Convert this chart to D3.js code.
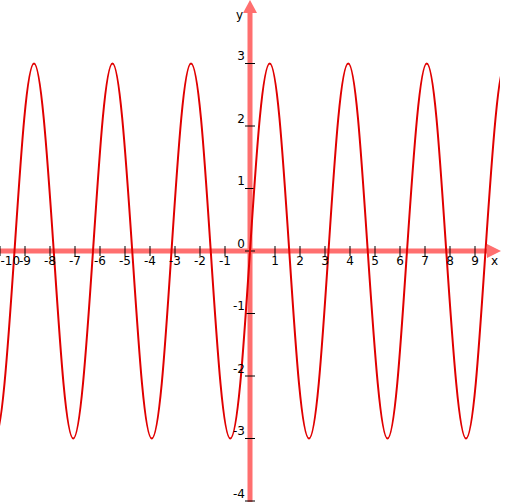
<!DOCTYPE html>
<html><head><meta charset="utf-8">
<script src="https://cdn.jsdelivr.net/npm/d3@7"></script>
<style>html,body{margin:0;padding:0;background:#fff;}svg{display:block;}</style>
</head><body>
<svg id="c" width="508" height="502"></svg>
<script>
// Points at eighth-period spacing, extending slightly beyond the view
const xs = [-11.00,-10.60,-10.21,-9.82,-9.42,-9.03,-8.64,-8.25,-7.85,-7.46,-7.07,-6.68,-6.28,-5.89,-5.50,-5.11,-4.71,-4.32,-3.93,-3.53,-3.14,-2.75,-2.36,-1.96,-1.57,-1.18,-0.79,-0.39,
  0,
  0.39,0.79,1.18,1.57,1.96,2.36,2.75,3.14,3.53,3.93,4.32,4.71,5.11,5.50,5.89,6.28,6.68,7.07,7.46,7.85,8.25,8.64,9.03,9.42,9.82,10.21,10.60,11.00];
const ysLeft = [0,-2.12,-3,-2.12,0,2.12,3,2.12, 0,-2.12,-3,-2.12,0,2.12,3,2.12, 0,-2.12,-3,-2.12,0,2.12,3,2.12, 0,-2.12,-3,-2.12];
const ysRight = [2.12,3,2.12,0,-2.12,-3,-2.12,0, 2.12,3,2.12,0,-2.12,-3,-2.12,0, 2.12,3,2.12,0,-2.12,-3,-2.12,0, 2.12,3,2.12,0];
const yVals = ysLeft.concat([0], ysRight);
const xTicks = [-10,-9,-8,-7,-6,-5,-4,-3,-2,-1,1,2,3,4,5,6,7,8,9];
const yTicks = [-4,-3,-2,-1,0,1,2,3];

const svg = d3.select("#c");
const W = 508, H = 502;
const x = d3.scaleLinear().domain([-10,10]).range([0,500]);
const y = d3.scaleLinear().domain([-4,4]).range([501,1]);
const axisColor = "#ff6f6f";
const font = "DejaVu Sans, sans-serif";

// axes
svg.append("line").attr("x1",0).attr("x2",489).attr("y1",y(0)).attr("y2",y(0))
  .attr("stroke",axisColor).attr("stroke-width",5);
svg.append("path").attr("d",`M487,${y(0)-7}L501,${y(0)}L487,${y(0)+7}Z`).attr("fill",axisColor);
svg.append("line").attr("x1",x(0)).attr("x2",x(0)).attr("y1",H).attr("y2",12)
  .attr("stroke",axisColor).attr("stroke-width",5);
svg.append("path").attr("d",`M${x(0)-7},13L${x(0)},0L${x(0)+7},13Z`).attr("fill",axisColor);

// ticks
svg.selectAll(".xt").data(xTicks).enter().append("line")
  .attr("x1",d=>x(d)).attr("x2",d=>x(d)).attr("y1",y(0)-5).attr("y2",y(0)+5)
  .attr("stroke","#000").attr("stroke-width",1);
svg.selectAll(".yt").data(yTicks).enter().append("line")
  .attr("x1",x(0)-5).attr("x2",x(0)+5).attr("y1",d=>y(d)).attr("y2",d=>y(d))
  .attr("stroke","#000").attr("stroke-width",1);

// curve
const pts = xs.map((v,i)=>[v,yVals[i]]);
svg.append("clipPath").attr("id","cp").append("rect").attr("x",0).attr("y",0).attr("width",500).attr("height",H);
svg.append("path").datum(pts).attr("clip-path","url(#cp)")
  .attr("d",d3.line().x(d=>x(d[0])).y(d=>y(d[1])).curve(d3.curveNatural))
  .attr("fill","none").attr("stroke","#e00000").attr("stroke-width",2);

// labels
const xl = svg.selectAll(".xl").data(xTicks).enter().append("text")
  .attr("x",d=>x(d)).attr("y",y(0)+14).attr("text-anchor","middle")
  .attr("font-family",font).attr("font-size",12).attr("fill","#000").text(d=>d);
xl.each(function(){ const b=this.getBBox(); if(b.x < 0.5){ d3.select(this).attr("x", +d3.select(this).attr("x") + (0.5 - b.x)); } });
svg.selectAll(".yl").data(yTicks).enter().append("text")
  .attr("x",x(0)-5).attr("y",d=>y(d)-3.5).attr("text-anchor","end")
  .attr("font-family",font).attr("font-size",12).attr("fill","#000").text(d=>d);
svg.append("text").attr("x",491).attr("y",y(0)+14).attr("font-family",font).attr("font-size",12).text("x");
svg.append("text").attr("x",243).attr("y",19).attr("text-anchor","end").attr("font-family",font).attr("font-size",12).text("y");
</script>
</body></html>
